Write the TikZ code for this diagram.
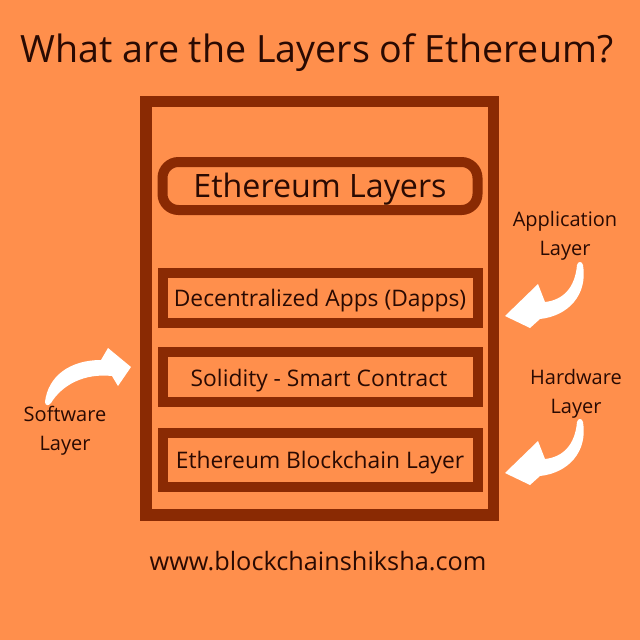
\documentclass[tikz,border=0pt]{standalone}
\usepackage{fontspec}
\setmainfont{Open Sans}
\definecolor{bgorange}{HTML}{FF8F4C}
\definecolor{framebrown}{HTML}{8A2A03}
\definecolor{inktext}{HTML}{2A0A02}
\begin{document}
\begin{tikzpicture}[x=1pt,y=-1pt,
  layerbox/.style={draw=framebrown,line width=10pt,minimum width=315pt,inner sep=0pt},
  boxtext/.style={anchor=base,text=inktext,inner sep=0pt,font=\fontsize{22.8}{26}\selectfont},
  sidetext/.style={anchor=base,text=inktext,inner sep=0pt,align=center,font=\fontsize{20}{29}\selectfont},
  swoosh/.style={fill=white}]
\fill[bgorange] (0,0) rectangle (640,640);
\useasboundingbox (0,0) rectangle (640,640);
% title
\node[anchor=base,text=inktext,inner sep=0pt,font=\fontsize{37.6}{44}\selectfont] (title) at (317,62) {What are the Layers of Ethereum?};
% outer frame
\node[draw=framebrown,line width=11.5pt,minimum width=347.5pt,minimum height=413.5pt,inner sep=0pt] (frame) at (319.75,308.25) {};
% boxes
\node[layerbox,rounded corners=16pt,minimum height=48pt] (top) at (320,186) {};
\node[layerbox,minimum height=50pt] (dapps) at (320,298) {};
\node[layerbox,minimum height=50pt] (solid) at (320,377) {};
\node[layerbox,minimum height=54pt] (chain) at (320,460) {};
\node[boxtext,font=\fontsize{32.2}{36}\selectfont] (toptext) at (320,197) {Ethereum Layers};
\node[boxtext] (dappstext) at (320,306) {Decentralized Apps (Dapps)};
\node[boxtext] (solidtext) at (319,386) {Solidity - Smart Contract};
\node[boxtext] (chaintext) at (320,468) {Ethereum Blockchain Layer};
% side labels (base = baseline of last line)
\node[sidetext] (applab) at (565,255) {Application\\Layer};
\node[sidetext] (hwlab) at (576,413) {Hardware\\Layer};
\node[sidetext] (swlab) at (65,450) {Software\\Layer};
% URL
\node[anchor=base,text=inktext,inner sep=0pt,font=\fontsize{25.3}{28}\selectfont] (url) at (318,570) {www.blockchainshiksha.com};
% arrows
\fill[swoosh] (577,265) .. controls (575,288) and (563,300) .. (545,302) -- (538,284) -- (505,316) -- (530,328) -- (540,319) .. controls (568,316) and (588,295) .. (583,265) .. controls (582,261) and (578,261) .. (577,265) -- cycle;
\begin{scope}[yshift=-157pt]
\fill[swoosh] (577,265) .. controls (575,288) and (563,300) .. (545,302) -- (538,284) -- (505,316) -- (530,328) -- (540,319) .. controls (568,316) and (588,295) .. (583,265) .. controls (582,261) and (578,261) .. (577,265) -- cycle;
\end{scope}
\fill[swoosh] (45,402) .. controls (48,376) and (70,360) .. (101,360) -- (108,348) -- (131,367) -- (118,386) -- (112,376) .. controls (84,373) and (62,385) .. (51,403) .. controls (49,406) and (45,406) .. (45,402) -- cycle;
\end{tikzpicture}
\end{document}
